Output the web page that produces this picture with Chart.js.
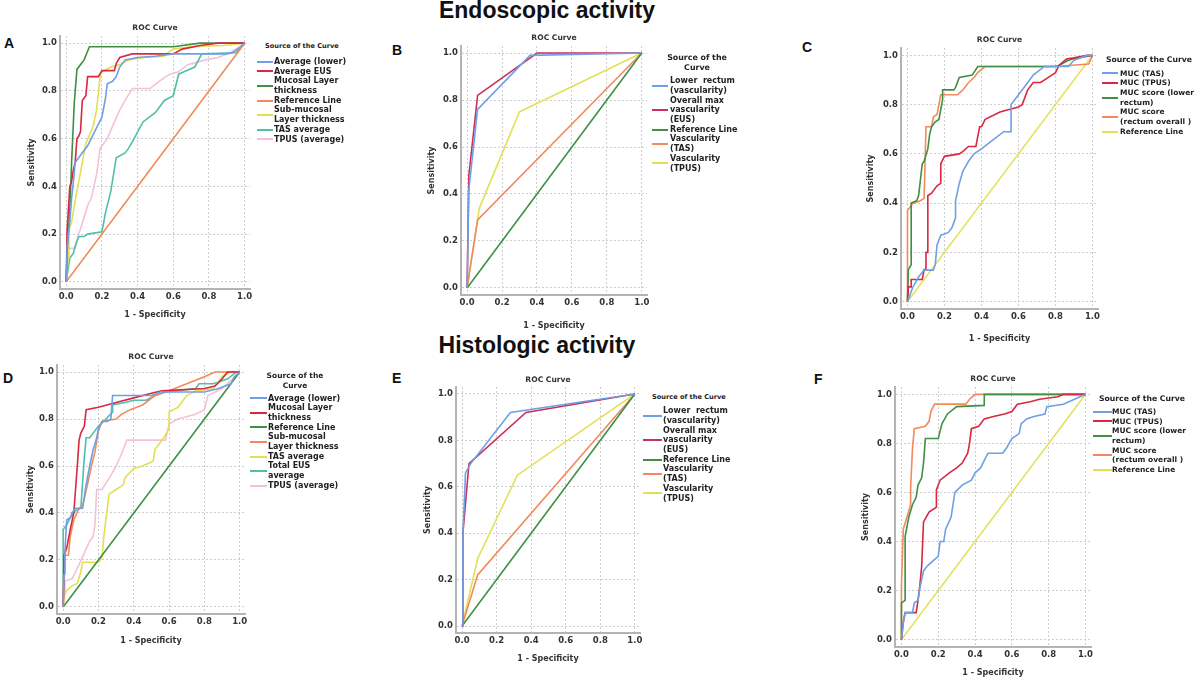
<!DOCTYPE html>
<html>
<head>
<meta charset="utf-8">
<script src="https://cdn.jsdelivr.net/npm/chart.js@4.4.0/dist/chart.umd.min.js"></script>
<style>
  body { margin:0; background:#fff; width:1200px; height:681px; position:relative; overflow:hidden; color:#222; font-family:'DejaVu Sans',sans-serif; }
  .head { position:absolute; width:600px; text-align:center; font:bold 23px 'Liberation Sans',Arial,sans-serif; line-height:23px; color:#111; white-space:nowrap; }
  .tag { position:absolute; font:bold 14px 'Liberation Sans',Arial,sans-serif; line-height:14px; color:#111; }
  canvas { position:absolute; }
  .lgt, .lgr { position:absolute; font-weight:bold; white-space:nowrap; color:#222; }
  .lgr { display:flex; align-items:center; }
  .sw { height:2px; flex:none; }
</style>
</head>
<body>
<div class="head" style="left:247px;top:-1px">Endoscopic activity</div>
<div class="head" style="left:237px;top:334px">Histologic activity</div>
<div class="tag" style="left:4px;top:36px">A</div>
<div class="tag" style="left:392px;top:43px">B</div>
<div class="tag" style="left:802px;top:40px">C</div>
<div class="tag" style="left:3px;top:371px">D</div>
<div class="tag" style="left:392px;top:371px">E</div>
<div class="tag" style="left:814px;top:372px">F</div>
<script>
// axis ticks shared by every panel
const tickVals = [0, 0.2, 0.4, 0.6, 0.8, 1.0];
const tickLabels = ['0.0', '0.2', '0.4', '0.6', '0.8', '1.0'];
const diagonal = [[0, 0], [1, 1]];

// A - endoscopic, thickness / averages
const aAverageLower = [[0,0],[0.005,0.15],[0.02,0.25],[0.03,0.35],[0.04,0.42],[0.05,0.5],[0.08,0.53],[0.12,0.57],[0.16,0.63],[0.2,0.69],[0.22,0.77],[0.23,0.83],[0.26,0.84],[0.28,0.86],[0.3,0.9],[0.33,0.93],[0.4,0.94],[0.5,0.945],[0.6,0.955],[0.9,0.955],[0.93,0.96],[0.97,0.98],[1,1]];
const aAverageEus = [[0,0],[0.005,0.22],[0.02,0.4],[0.03,0.42],[0.04,0.47],[0.05,0.5],[0.06,0.6],[0.07,0.61],[0.08,0.63],[0.09,0.76],[0.11,0.78],[0.12,0.86],[0.18,0.86],[0.2,0.885],[0.27,0.885],[0.28,0.915],[0.3,0.94],[0.37,0.955],[0.6,0.955],[0.65,0.975],[0.75,0.99],[0.85,1],[1,1]];
const aMucosal = [[0,0],[0.005,0.13],[0.02,0.3],[0.03,0.5],[0.045,0.75],[0.06,0.89],[0.1,0.93],[0.13,0.985],[0.6,0.985],[0.75,1],[1,1]];
const aSubmucosal = [[0,0],[0.005,0.03],[0.01,0.1],[0.015,0.22],[0.03,0.25],[0.05,0.34],[0.07,0.42],[0.11,0.58],[0.15,0.65],[0.17,0.72],[0.19,0.86],[0.2,0.88],[0.25,0.9],[0.3,0.91],[0.35,0.93],[0.43,0.94],[0.55,0.945],[0.57,0.96],[0.6,0.975],[0.7,0.985],[0.88,0.99],[1,1]];
const aTasAverage = [[0,0],[0.005,0.03],[0.01,0.05],[0.02,0.1],[0.04,0.12],[0.05,0.15],[0.07,0.19],[0.1,0.19],[0.12,0.2],[0.2,0.21],[0.22,0.29],[0.25,0.38],[0.28,0.52],[0.33,0.54],[0.35,0.56],[0.38,0.6],[0.43,0.67],[0.5,0.71],[0.55,0.76],[0.6,0.78],[0.63,0.87],[0.66,0.88],[0.72,0.9],[0.76,0.955],[0.95,0.96],[1,1]];
const aTpusAverage = [[0,0],[0.005,0.1],[0.01,0.14],[0.05,0.14],[0.07,0.2],[0.1,0.27],[0.12,0.32],[0.14,0.35],[0.17,0.45],[0.19,0.56],[0.23,0.6],[0.27,0.67],[0.3,0.72],[0.33,0.76],[0.37,0.81],[0.47,0.81],[0.52,0.84],[0.58,0.87],[0.63,0.88],[0.68,0.91],[0.78,0.93],[0.85,0.94],[0.92,0.96],[1,1]];
const aLabels = [['Average (lower)'], ['Average EUS'], ['Mucosal Layer', 'thickness'], ['Reference Line'], ['Sub-mucosal', 'Layer thickness'], ['TAS average'], ['TPUS (average)']];

// B - endoscopic, vascularity
const bLowerRectum = [[0,0],[0.01,0.42],[0.06,0.76],[0.36,0.99],[1,1]];
const bOverallMax = [[0,0],[0.01,0.48],[0.06,0.82],[0.4,1],[1,1]];
const bVascTas = [[0,0],[0.06,0.29],[1,1]];
const bVascTpus = [[0,0],[0.07,0.34],[0.3,0.75],[1,1]];
const bLabels = [['Lower  rectum', '(vascularity)'], ['Overall max', 'vascularity', '(EUS)'], ['Reference Line'], ['Vascularity', '(TAS)'], ['Vascularity', '(TPUS)']];

// C - endoscopic, MUC
const cMucTas = [[0,0],[0.03,0.06],[0.06,0.1],[0.09,0.128],[0.14,0.128],[0.15,0.15],[0.16,0.23],[0.18,0.27],[0.22,0.28],[0.24,0.3],[0.26,0.34],[0.26,0.41],[0.28,0.48],[0.3,0.53],[0.33,0.57],[0.36,0.6],[0.4,0.62],[0.45,0.65],[0.52,0.69],[0.56,0.69],[0.56,0.8],[0.63,0.87],[0.68,0.92],[0.74,0.955],[0.87,0.955],[0.9,0.98],[0.97,1],[1,1]];
const cMucTpus = [[0,0],[0.005,0.06],[0.02,0.06],[0.02,0.09],[0.08,0.09],[0.09,0.13],[0.1,0.13],[0.1,0.2],[0.11,0.2],[0.11,0.43],[0.13,0.44],[0.16,0.47],[0.18,0.48],[0.18,0.56],[0.2,0.59],[0.28,0.6],[0.3,0.61],[0.33,0.63],[0.37,0.63],[0.39,0.71],[0.4,0.71],[0.42,0.74],[0.5,0.77],[0.55,0.78],[0.6,0.79],[0.62,0.8],[0.65,0.86],[0.68,0.89],[0.72,0.89],[0.76,0.91],[0.8,0.93],[0.82,0.96],[0.86,0.985],[0.9,0.99],[0.97,1],[1,1]];
const cMucLower = [[0,0],[0.005,0.13],[0.02,0.15],[0.02,0.4],[0.05,0.41],[0.06,0.43],[0.08,0.56],[0.09,0.57],[0.11,0.62],[0.12,0.68],[0.13,0.71],[0.15,0.73],[0.17,0.74],[0.19,0.82],[0.19,0.86],[0.25,0.86],[0.26,0.87],[0.28,0.91],[0.35,0.92],[0.38,0.955],[0.8,0.955],[0.82,0.96],[0.87,0.98],[0.92,0.99],[1,1]];
const cMucOverall = [[0,0],[0,0.37],[0.03,0.4],[0.07,0.41],[0.09,0.42],[0.1,0.71],[0.13,0.71],[0.14,0.75],[0.16,0.76],[0.18,0.84],[0.27,0.84],[0.3,0.86],[0.33,0.89],[0.36,0.91],[0.38,0.93],[0.42,0.955],[0.8,0.955],[0.98,0.965],[1,1]];
const cLabels = [['MUC (TAS)'], ['MUC (TPUS)'], ['MUC score (lower', 'rectum)'], ['MUC score', '(rectum overall )'], ['Reference Line']];

// D - histologic, thickness / averages
const dAverageLower = [[0,0],[0.005,0.14],[0.01,0.24],[0.02,0.37],[0.04,0.38],[0.05,0.4],[0.07,0.42],[0.11,0.42],[0.13,0.52],[0.15,0.6],[0.17,0.67],[0.19,0.72],[0.2,0.76],[0.22,0.79],[0.25,0.79],[0.27,0.8],[0.28,0.9],[0.5,0.9],[0.55,0.915],[0.8,0.915],[0.88,0.93],[0.95,0.95],[0.97,0.98],[1,1]];
const dMucosal = [[0,0],[0.005,0.22],[0.02,0.25],[0.04,0.33],[0.06,0.4],[0.08,0.6],[0.09,0.71],[0.1,0.74],[0.12,0.77],[0.13,0.84],[0.2,0.85],[0.3,0.87],[0.4,0.89],[0.5,0.91],[0.56,0.92],[0.8,0.93],[0.86,0.94],[0.9,0.97],[0.93,1],[1,1]];
const dSubmucosal = [[0,0],[0.01,0.22],[0.03,0.22],[0.04,0.3],[0.06,0.37],[0.09,0.42],[0.11,0.43],[0.14,0.53],[0.16,0.6],[0.18,0.66],[0.2,0.75],[0.22,0.79],[0.3,0.8],[0.33,0.82],[0.38,0.84],[0.45,0.86],[0.52,0.9],[0.6,0.92],[0.7,0.95],[0.8,0.98],[0.86,1],[1,1]];
const dTasAverage = [[0,0],[0.005,0.05],[0.02,0.07],[0.05,0.09],[0.08,0.1],[0.1,0.15],[0.11,0.19],[0.2,0.19],[0.22,0.21],[0.23,0.3],[0.24,0.36],[0.26,0.48],[0.3,0.5],[0.34,0.52],[0.35,0.55],[0.4,0.59],[0.45,0.6],[0.51,0.62],[0.52,0.67],[0.57,0.72],[0.6,0.76],[0.6,0.83],[0.65,0.85],[0.7,0.9],[0.75,0.92],[0.85,0.93],[0.9,0.98],[0.95,1],[1,1]];
const dTotalEus = [[0,0],[0,0.33],[0.02,0.35],[0.04,0.38],[0.07,0.41],[0.1,0.42],[0.12,0.64],[0.13,0.72],[0.15,0.72],[0.17,0.74],[0.2,0.77],[0.23,0.79],[0.28,0.83],[0.28,0.86],[0.35,0.87],[0.4,0.88],[0.47,0.88],[0.52,0.9],[0.58,0.915],[0.75,0.93],[0.77,0.95],[0.85,0.95],[0.93,0.97],[0.98,1],[1,1]];
const dTpusAverage = [[0,0],[0.01,0.05],[0.01,0.11],[0.05,0.12],[0.09,0.18],[0.12,0.23],[0.15,0.28],[0.17,0.3],[0.18,0.35],[0.19,0.5],[0.22,0.5],[0.27,0.56],[0.3,0.6],[0.33,0.65],[0.36,0.71],[0.58,0.71],[0.6,0.78],[0.65,0.8],[0.75,0.82],[0.8,0.84],[0.82,0.9],[0.9,0.93],[1,1]];
const dLabels = [['Average (lower)'], ['Mucosal Layer', 'thickness'], ['Reference Line'], ['Sub-mucosal', 'Layer thickness'], ['TAS average'], ['Total EUS', 'average'], ['TPUS (average)']];

// E - histologic, vascularity
const eLowerRectum = [[0,0],[0.005,0.4],[0.02,0.66],[0.05,0.7],[0.28,0.92],[1,1]];
const eOverallMax = [[0,0],[0.005,0.4],[0.04,0.7],[0.37,0.92],[1,1]];
const eVascTas = [[0,0],[0.09,0.22],[1,1]];
const eVascTpus = [[0,0],[0.09,0.29],[0.32,0.65],[1,1]];
const eLabels = bLabels;

// F - histologic, MUC
const fMucTas = [[0,0],[0.01,0.07],[0.02,0.11],[0.06,0.11],[0.07,0.15],[0.09,0.16],[0.1,0.21],[0.12,0.28],[0.14,0.3],[0.17,0.32],[0.2,0.34],[0.21,0.4],[0.23,0.4],[0.24,0.45],[0.27,0.5],[0.29,0.6],[0.33,0.63],[0.38,0.65],[0.4,0.68],[0.43,0.7],[0.47,0.76],[0.55,0.76],[0.57,0.78],[0.6,0.82],[0.64,0.84],[0.65,0.88],[0.68,0.9],[0.72,0.91],[0.78,0.92],[0.79,0.95],[0.88,0.96],[0.94,0.98],[0.97,0.99],[1,1]];
const fMucTpus = [[0,0],[0.01,0.07],[0.02,0.11],[0.08,0.11],[0.09,0.16],[0.1,0.22],[0.11,0.3],[0.12,0.48],[0.15,0.52],[0.19,0.54],[0.19,0.61],[0.21,0.65],[0.26,0.68],[0.3,0.7],[0.33,0.72],[0.36,0.76],[0.37,0.8],[0.38,0.86],[0.42,0.87],[0.45,0.9],[0.5,0.91],[0.56,0.92],[0.6,0.93],[0.63,0.96],[0.7,0.97],[0.75,0.98],[0.85,0.99],[0.88,1],[1,1]];
const fMucLower = [[0,0],[0,0.15],[0.02,0.16],[0.02,0.42],[0.04,0.5],[0.06,0.55],[0.08,0.58],[0.09,0.63],[0.11,0.66],[0.12,0.72],[0.13,0.82],[0.2,0.82],[0.22,0.88],[0.25,0.92],[0.3,0.95],[0.45,0.955],[0.45,1],[1,1]];
const fMucOverall = [[0,0],[0,0.22],[0.01,0.45],[0.03,0.5],[0.05,0.55],[0.05,0.62],[0.06,0.78],[0.07,0.86],[0.13,0.87],[0.15,0.89],[0.16,0.93],[0.18,0.96],[0.35,0.96],[0.37,0.98],[0.4,1],[1,1]];
const fLabels = cLabels;

// SPSS-ish palette
const BLUE = '#6f9fe6', RED = '#d9283f', CRIMSON = '#c9305c', GREEN = '#3f8f45',
      ORANGE = '#f28a5c', YELLOW = '#e2e052', TEAL = '#4fbfa8', PINK = '#f5c1d6';

const FONT = "'DejaVu Sans', sans-serif";
const LH = 9.7;

// frame = [left, top, right, bottom] of the plot frame in page px
const panels = [
  { frame:[60,36,250,289], titleY:28, yTitleX:32, xTitleY:315,
    series:[aAverageLower,aAverageEus,aMucosal,diagonal,aSubmucosal,aTasAverage,aTpusAverage],
    labels:aLabels, colors:[BLUE,RED,GREEN,ORANGE,YELLOW,TEAL,PINK],
    legend:{ x:257, sw:16, gap:1, size:8, title:['Source of the Curve'], titleX:265, titleY:47, titleSize:6.6, top:56.9 } },
  { frame:[461,46,647,295], titleY:38, yTitleX:432, xTitleY:326,
    series:[bLowerRectum,bOverallMax,diagonal,bVascTas,bVascTpus],
    labels:bLabels, colors:[BLUE,CRIMSON,GREEN,ORANGE,YELLOW],
    legend:{ x:652, sw:16, gap:2, size:8, title:['Source of the','Curve'], titleCx:697, titleY:57.7, titleSize:7.9, top:76.2 } },
  { frame:[901,48,1098,309], titleY:40, yTitleX:871, xTitleY:339,
    series:[cMucTas,cMucTpus,cMucLower,cMucOverall,diagonal],
    labels:cLabels, colors:[BLUE,RED,GREEN,ORANGE,YELLOW],
    legend:{ x:1102, sw:16, gap:2, size:7.5, title:['Source of the Curve'], titleX:1106, titleY:60, titleSize:7.7, top:68.5 } },
  { frame:[57,365,245,614], titleY:357, yTitleX:31, xTitleY:641,
    series:[dAverageLower,dMucosal,diagonal,dSubmucosal,dTasAverage,dTotalEus,dTpusAverage],
    labels:dLabels, colors:[BLUE,RED,GREEN,ORANGE,YELLOW,TEAL,PINK],
    legend:{ x:250, sw:17, gap:1, size:8, title:['Source of the','Curve'], titleCx:295, titleY:376, titleSize:7.5, top:393.5 } },
  { frame:[456,387,640,633], titleY:380, yTitleX:428, xTitleY:659,
    series:[eLowerRectum,eOverallMax,diagonal,eVascTas,eVascTpus],
    labels:eLabels, colors:[BLUE,CRIMSON,GREEN,ORANGE,YELLOW],
    legend:{ x:643, sw:19, gap:1, size:8, title:['Source of the Curve'], titleX:652, titleY:398.3, titleSize:6.6, top:406.2 } },
  { frame:[895,387,1091,647], titleY:379, yTitleX:866, xTitleY:673,
    series:[fMucTas,fMucTpus,fMucLower,fMucOverall,diagonal],
    labels:fLabels, colors:[BLUE,RED,GREEN,ORANGE,YELLOW],
    legend:{ x:1093, sw:19, gap:0, size:7.5, title:['Source of the Curve'], titleX:1099, titleY:399, titleSize:7.7, top:406.9 } }
];

const titleSize = 7.6, axisSize = 8, tickSize = 8.5, padR = 12;

function makeChart(p) {
  const [L, T, R, B] = p.frame;
  const cl = Math.round(p.yTitleX - axisSize * 0.6);
  const ct = Math.round(p.titleY - titleSize * 0.6);
  const cb = Math.round(p.xTitleY + axisSize * 0.6);
  const cr = R + padR;
  const yW = L - cl, xH = cb - B;
  const tpb = T - ct - titleSize * 1.2;

  const cv = document.createElement('canvas');
  cv.width = cr - cl; cv.height = cb - ct;
  cv.style.left = cl + 'px'; cv.style.top = ct + 'px';
  cv.style.width = (cr - cl) + 'px'; cv.style.height = (cb - ct) + 'px';
  document.body.appendChild(cv);

  const axis = (title, min, max, fitFn) => ({
    type: 'linear', min, max,
    afterBuildTicks: s => { s.ticks = tickVals.map(v => ({ value: v })); },
    afterFit: fitFn,
    grid: { color: '#cdcdcd', lineWidth: 1, drawTicks: false },
    border: { display: true, color: '#b4b4b4', width: 2, dash: [2, 2] },
    ticks: { autoSkip: false, maxRotation: 0, padding: 3, color: '#333',
             font: { family: FONT, size: tickSize, weight: 'bold' },
             callback: (v, i) => tickLabels[i] },
    title: { display: true, text: title, color: '#333', padding: 0,
             font: { family: FONT, size: axisSize, weight: 'bold' } }
  });

  new Chart(cv, {
    type: 'line',
    data: {
      datasets: p.series.map((pts, i) => ({
        label: p.labels[i].join(' '),
        data: pts.map(([x, y]) => ({ x, y })),
        borderColor: p.colors[i], borderWidth: 1.6,
        pointRadius: 0, tension: 0, fill: false
      }))
    },
    options: {
      responsive: false, animation: false, devicePixelRatio: 1,
      layout: { padding: { left: 0, right: padR, top: 0, bottom: 0 } },
      plugins: {
        legend: { display: false }, tooltip: { enabled: false },
        title: { display: true, text: 'ROC Curve', fullSize: false, color: '#333',
                 font: { family: FONT, size: titleSize, weight: 'bold' },
                 padding: { top: 0, bottom: tpb } }
      },
      scales: {
        x: axis('1 - Specificity', -0.035, 1.03, s => { s.height = xH; }),
        y: axis('Sensitivity', -0.03, 1.03, s => { s.width = yW; })
      }
    }
  });
}

function makeLegend(p) {
  const g = p.legend;
  g.title.forEach((line, i) => {
    const d = document.createElement('div');
    d.className = 'lgt';
    d.textContent = line;
    d.style.fontSize = g.titleSize + 'px';
    d.style.lineHeight = LH + 'px';
    d.style.top = (g.titleY - LH / 2 + i * LH) + 'px';
    if (g.titleCx != null) {
      d.style.left = (g.titleCx - 80) + 'px'; d.style.width = '160px'; d.style.textAlign = 'center';
    } else {
      d.style.left = g.titleX + 'px';
    }
    document.body.appendChild(d);
  });
  let y = g.top;
  p.labels.forEach((lines, i) => {
    const row = document.createElement('div');
    row.className = 'lgr';
    row.style.left = g.x + 'px';
    row.style.top = y + 'px';
    row.style.height = (lines.length * LH) + 'px';
    const sw = document.createElement('div');
    sw.className = 'sw';
    sw.style.width = g.sw + 'px';
    sw.style.background = p.colors[i];
    const tx = document.createElement('div');
    tx.style.fontSize = g.size + 'px';
    tx.style.lineHeight = LH + 'px';
    tx.style.marginLeft = g.gap + 'px';
    tx.style.whiteSpace = 'pre';
    tx.textContent = lines.join('\n');
    row.appendChild(sw); row.appendChild(tx);
    document.body.appendChild(row);
    y += lines.length * LH;
  });
}

panels.forEach(p => { makeChart(p); makeLegend(p); });
</script>
</body>
</html>
